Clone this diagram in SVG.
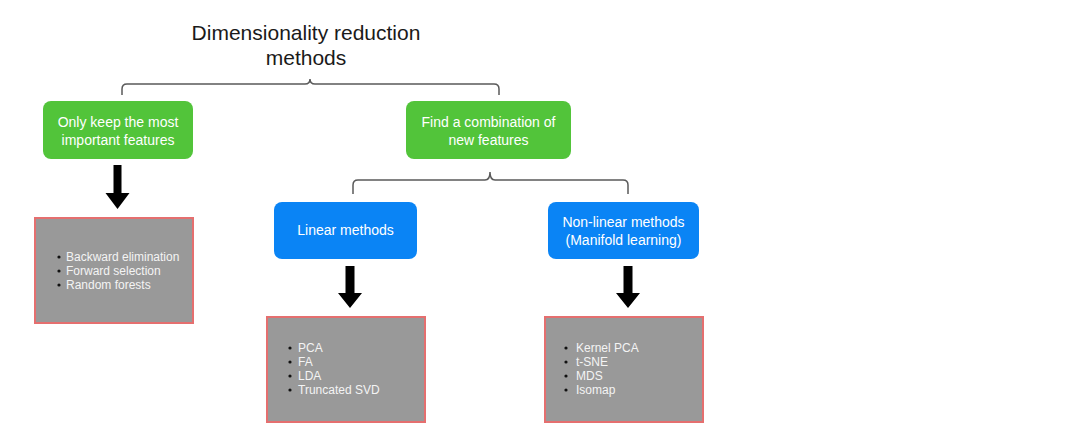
<svg xmlns="http://www.w3.org/2000/svg" width="1082" height="448" viewBox="0 0 1082 448">
<defs>
<style>
text{font-family:"Liberation Sans",Arial,sans-serif}
.title{font-size:21px;fill:#1a1a1a;text-anchor:middle}
.g{fill:#52c43a}
.b{fill:#0a84f5}
.bt{font-size:14px;fill:#ffffff;text-anchor:middle}
.list{fill:#999999;stroke:#e56f6f;stroke-width:2}
.lt{font-size:12px;fill:#f4f4f4}
.dot{fill:#111111}
.brace{fill:none;stroke:#5a5a5a;stroke-width:1.5}
.arrow{fill:#000000}
</style>
</defs>
<rect width="1082" height="448" fill="#ffffff"/>
<g id="title">
<text class="title" x="306" y="40">Dimensionality reduction</text>
<text class="title" x="306" y="65">methods</text>
</g>
<g id="connectors">
<path class="brace" d="M122,95 L122,89 Q122,84 127,84 L305,84 Q310,84 310,79 Q310,84 315,84 L494,84 Q499,84 499,89 L499,95"/>
<path class="brace" d="M353,194 L353,185 Q353,180 358,180 L485,180 Q490,180 490,172 Q490,180 495,180 L623,180 Q628,180 628,185 L628,194"/>
<path class="arrow" d="M113.5,165 L121.5,165 L121.5,193 L129.5,193 L117.5,209 L105.5,193 L113.5,193 Z"/>
<path class="arrow" d="M345.5,266 L354.5,266 L354.5,293 L362,293 L350,308 L338,293 L345.5,293 Z"/>
<path class="arrow" d="M623.5,266 L632.5,266 L632.5,293 L640,293 L628,308 L616,293 L623.5,293 Z"/>
</g>
<g id="keep">
<rect class="g" x="43" y="101" width="150" height="58" rx="8"/>
<text class="bt" x="118" y="127">Only keep the most</text>
<text class="bt" x="118" y="145">important features</text>
</g>
<g id="combine">
<rect class="g" x="406" y="101" width="165" height="58" rx="8"/>
<text class="bt" x="488.5" y="127">Find a combination of</text>
<text class="bt" x="488.5" y="145">new features</text>
</g>
<g id="linear">
<rect class="b" x="274" y="202" width="143" height="57" rx="8"/>
<text class="bt" x="345.5" y="235">Linear methods</text>
</g>
<g id="nonlinear">
<rect class="b" x="548" y="202" width="151" height="57" rx="8"/>
<text class="bt" x="623.5" y="227">Non-linear methods</text>
<text class="bt" x="623.5" y="245">(Manifold learning)</text>
</g>
<g id="list-selection">
<rect class="list" x="35" y="218" width="158" height="105"/>
<circle class="dot" cx="59" cy="257" r="1.6"/>
<circle class="dot" cx="59" cy="271" r="1.6"/>
<circle class="dot" cx="59" cy="285" r="1.6"/>
<text class="lt" x="66" y="261">Backward elimination</text>
<text class="lt" x="66" y="275">Forward selection</text>
<text class="lt" x="66" y="289">Random forests</text>
</g>
<g id="list-linear">
<rect class="list" x="267" y="317" width="158" height="105"/>
<circle class="dot" cx="290" cy="348" r="1.6"/>
<circle class="dot" cx="290" cy="362" r="1.6"/>
<circle class="dot" cx="290" cy="376" r="1.6"/>
<circle class="dot" cx="290" cy="390" r="1.6"/>
<text class="lt" x="298" y="352">PCA</text>
<text class="lt" x="298" y="366">FA</text>
<text class="lt" x="298" y="380">LDA</text>
<text class="lt" x="298" y="394">Truncated SVD</text>
</g>
<g id="list-nonlinear">
<rect class="list" x="545" y="317" width="158" height="105"/>
<circle class="dot" cx="566" cy="348" r="1.6"/>
<circle class="dot" cx="566" cy="362" r="1.6"/>
<circle class="dot" cx="566" cy="376" r="1.6"/>
<circle class="dot" cx="566" cy="390" r="1.6"/>
<text class="lt" x="576" y="352">Kernel PCA</text>
<text class="lt" x="576" y="366">t-SNE</text>
<text class="lt" x="576" y="380">MDS</text>
<text class="lt" x="576" y="394">Isomap</text>
</g>
</svg>
